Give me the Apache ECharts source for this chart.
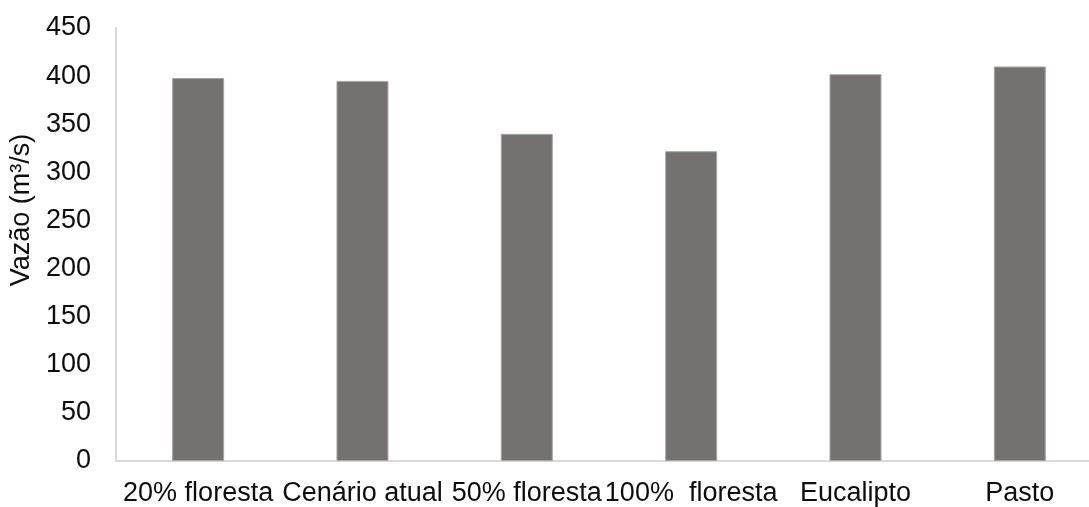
<!DOCTYPE html>
<html>
<head>
<meta charset="utf-8">
<script src="https://cdn.jsdelivr.net/npm/echarts@6/dist/echarts.min.js"></script>
<style>
  html, body { margin: 0; padding: 0; background: #fff; overflow: hidden; }
  /* the last category band runs a little past the right edge of the window */
  #chart { width: 1102px; height: 507px; }
</style>
</head>
<body>
<div id="chart"></div>
<script>
// Mean streamflow per land-use scenario
const categories = ['20% floresta', 'Cenário atual', '50% floresta', '100%  floresta', 'Eucalipto', 'Pasto'];
const vazao = [398, 395, 340, 322, 402, 410];
const yTicks = { min: 0, max: 450, interval: 50 };

const FONT = '"Liberation Sans", Arial, sans-serif';
const chart = echarts.init(document.getElementById('chart'), null, { renderer: 'canvas' });

chart.setOption({
  animation: false,
  backgroundColor: '#ffffff',
  grid: { left: 112, top: 28, bottom: 46, right: 0, containLabel: false },
  xAxis: {
    type: 'category',
    data: categories,
    axisLine: { show: true, lineStyle: { color: '#d9d9d9', width: 2 } },
    axisTick: { show: false },
    axisLabel: { color: '#0d0d0d', fontFamily: FONT, fontSize: 27, margin: 19, interval: 0 }
  },
  yAxis: {
    type: 'value',
    min: yTicks.min,
    max: yTicks.max,
    interval: yTicks.interval,
    name: 'Vazão (m³/s)',
    nameLocation: 'middle',
    nameGap: 76,
    nameTextStyle: { color: '#0d0d0d', fontFamily: FONT, fontSize: 27, padding: [0, 0, 0, 69] },
    axisLine: { show: true, lineStyle: { color: '#d9d9d9', width: 2 } },
    axisTick: { show: false },
    splitLine: { show: false },
    axisLabel: { color: '#0d0d0d', fontFamily: FONT, fontSize: 27, margin: 25 }
  },
  series: [{
    type: 'bar',
    data: vazao,
    barWidth: 52,
    itemStyle: { color: '#757170', borderColor: '#a9a5a4', borderWidth: 1 }
  }]
});
</script>
</body>
</html>
